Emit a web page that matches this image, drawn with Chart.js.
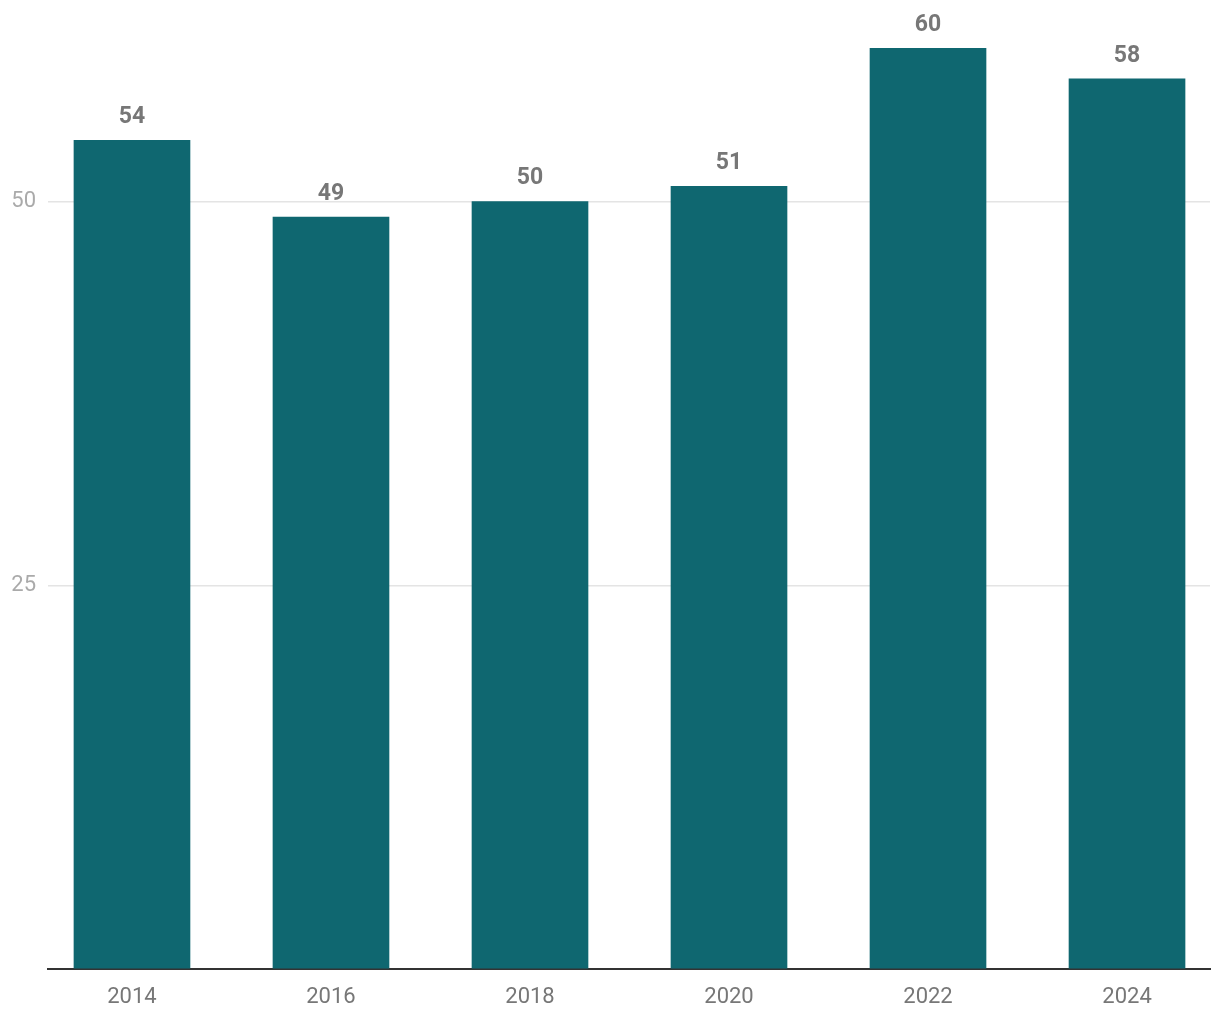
<!DOCTYPE html>
<html>
<head>
<meta charset="utf-8">
<script src="https://cdn.jsdelivr.net/npm/chart.js@4/dist/chart.umd.min.js"></script>
<style>
  html, body { margin: 0; padding: 0; background: #fff; }
  #wrap { width: 1220px; height: 1020px; }
</style>
</head>
<body>
<div id="wrap"><canvas id="chart" width="1220" height="1020"></canvas></div>
<script>
// Datos
const anios = [2014, 2016, 2018, 2020, 2022, 2024];
const valores = [54, 49, 50, 51, 60, 58];
const ticksY = [0, 25, 50];

const COLOR_BARRA = '#0f6770';

// Etiquetas de valor sobre cada barra
const etiquetasPlugin = {
  id: 'etiquetas',
  afterDatasetsDraw(chart) {
    const ctx = chart.ctx;
    const meta = chart.getDatasetMeta(0);
    ctx.save();
    ctx.font = "bold 23px Roboto";
    ctx.fillStyle = '#777';
    ctx.textAlign = 'center';
    ctx.textBaseline = 'middle';
    meta.data.forEach((bar, i) => {
      ctx.fillText(String(valores[i]), bar.x, bar.y - 23);
    });
    ctx.restore();
  },
};

new Chart(document.getElementById('chart'), {
  type: 'bar',
  data: {
    datasets: [{
      data: anios.map((a, i) => ({ x: a, y: valores[i] })),
      backgroundColor: COLOR_BARRA,
      barThickness: 116,
    }],
  },
  options: {
    responsive: false,
    animation: false,
    layout: { padding: { top: 3, right: 10, left: 0, bottom: 0 } },
    plugins: { legend: { display: false }, tooltip: { enabled: false } },
    scales: {
      x: {
        type: 'linear',
        offset: false,
        min: 2013.156,
        max: 2024.834,
        afterBuildTicks: (s) => { s.ticks = anios.map((v) => ({ value: v })); },
        afterFit: (s) => { s.height = 51; },
        grid: { display: false, drawTicks: false },
        border: { display: true, color: '#333', width: 2 },
        ticks: {
          padding: 15,
          color: '#777',
          font: { family: 'Roboto', size: 22 },
          maxRotation: 0,
          callback: (v) => String(v),
        },
      },
      y: {
        min: 0,
        max: 61.5,
        afterBuildTicks: (s) => { s.ticks = ticksY.map((v) => ({ value: v })); },
        afterFit: (s) => { s.width = 48; },
        grid: { color: '#e4e4e4', lineWidth: 1.5, drawTicks: false },
        border: { display: false },
        ticks: {
          padding: 12,
          color: '#aaa',
          font: { family: 'Roboto', size: 22 },
          callback: (v) => (v === 0 ? '' : String(v)),
        },
      },
    },
  },
  plugins: [etiquetasPlugin],
});
</script>
</body>
</html>
